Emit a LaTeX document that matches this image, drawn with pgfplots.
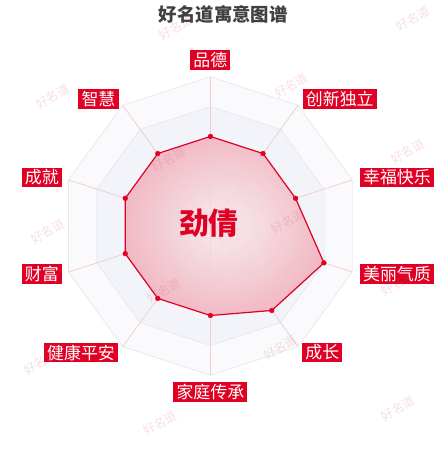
\documentclass[border=0pt]{standalone}
\usepackage{pgfplots}
\pgfplotsset{compat=1.18}
\usepackage{fontspec}
\setmainfont{Noto Sans CJK SC}

\definecolor{hmred}{RGB}{224,0,36}
\definecolor{bandout}{RGB}{250,250,252}
\definecolor{bandblue}{RGB}{242,244,250}
\definecolor{ringgray}{RGB}{232,233,240}
\definecolor{spokepink}{RGB}{242,205,213}
\definecolor{petalin}{RGB}{247,224,229}
\definecolor{petalout}{RGB}{233,126,148}
\definecolor{wmark}{RGB}{215,90,115}

\pgfdeclareradialshading{petal}{\pgfpoint{0bp}{0bp}}{%
  color(0bp)=(petalin); color(6bp)=(petalin); color(52bp)=(petalout); color(75bp)=(petalout)}

\tikzset{
  lab/.style={fill=hmred, text=white, inner xsep=3.2pt, inner ysep=0pt,
    minimum height=20pt, font=\fontsize{17}{17}\selectfont},
  wm/.style={text=wmark, opacity=0.2, rotate=30, font=\fontsize{12}{12}\selectfont}
}

\begin{document}
\begin{tikzpicture}
\begin{axis}[
  x=1.5pt, y=1.5pt,
  xmin=-141, xmax=159, ymin=-150.13, ymax=149.87,
  hide axis, clip=false,
]
% background bands of the grid
\addplot[draw=none, fill=bandout, data cs=polar] coordinates {(90,100) (54,100) (18,100) (-18,100) (-54,100) (-90,100) (-126,100) (-162,100) (162,100) (126,100) (90,100)};
\addplot[draw=none, fill=bandblue, data cs=polar] coordinates {(90,80) (54,80) (18,80) (-18,80) (-54,80) (-90,80) (-126,80) (-162,80) (162,80) (126,80) (90,80)};
\addplot[draw=none, fill=white, data cs=polar] coordinates {(90,60) (54,60) (18,60) (-18,60) (-54,60) (-90,60) (-126,60) (-162,60) (162,60) (126,60) (90,60)};
\addplot[draw=none, fill=bandblue, data cs=polar] coordinates {(90,40) (54,40) (18,40) (-18,40) (-54,40) (-90,40) (-126,40) (-162,40) (162,40) (126,40) (90,40)};
\addplot[draw=none, fill=white, data cs=polar] coordinates {(90,20) (54,20) (18,20) (-18,20) (-54,20) (-90,20) (-126,20) (-162,20) (162,20) (126,20) (90,20)};
% ring lines
\pgfplotsinvokeforeach{100,80,60,40,20}{
  \addplot[ringgray, line width=0.8pt, data cs=polar] coordinates {(90,#1) (54,#1) (18,#1) (-18,#1) (-54,#1) (-90,#1) (-126,#1) (-162,#1) (162,#1) (126,#1) (90,#1)};
}
% spokes
\pgfplotsinvokeforeach{90,54,18,-18,-54,-90,-126,-162,162,126}{
  \addplot[spokepink, line width=0.8pt, data cs=polar] coordinates {(#1,0) (#1,100)};
}
% data
\addplot[draw=hmred, line width=1.2pt, shading=petal, fill opacity=0.96, data cs=polar] coordinates {
  (90,60) (54,60) (18,60) (-18,80) (-54,70) (-90,60) (-126,60) (-162,60) (162,60) (126,60) (90,60)};
\pgfplotsinvokeforeach{90,54,18,-54,-90,-126,-162,162,126}{
  \addplot[spokepink, opacity=0.35, line width=0.6pt, data cs=polar] coordinates {(#1,0) (#1,60)};
}
\addplot[only marks, mark=*, mark size=2.4pt, hmred, data cs=polar] coordinates {
  (90,60) (54,60) (18,60) (-18,80) (-54,70) (-90,60) (-126,60) (-162,60) (162,60) (126,60)};

% axis names
\node[lab] at (axis cs:0,111.5) {品德};
\node[lab] at (axis cs:86.7,85.2) {创新独立};
\node[lab] at (axis cs:125,32.5) {幸福快乐};
\node[lab] at (axis cs:125,-32.1) {美丽气质};
\node[lab] at (axis cs:75,-84.8) {成长};
\node[lab] at (axis cs:0,-111.5) {家庭传承};
\node[lab] at (axis cs:-86.7,-84.8) {健康平安};
\node[lab] at (axis cs:-113,-32.1) {财富};
\node[lab] at (axis cs:-113,32.5) {成就};
\node[lab] at (axis cs:-75,85.2) {智慧};

% title and name
\node[text=black!75, font=\fontsize{18.5}{18.5}\selectfont\bfseries] at (axis cs:8.7,141.6) {好名道寓意图谱};
\node[text=hmred, font=\fontsize{30}{30}\selectfont\bfseries] at (axis cs:-1,1.5) {劲倩};

% watermarks
\node[wm] at (axis cs:-23,133.2) {好名道};
\node[wm] at (axis cs:135.7,139.2) {好名道};
\node[wm] at (axis cs:-105.7,86.5) {好名道};
\node[wm] at (axis cs:54.3,93.9) {好名道};
\node[wm] at (axis cs:-27.7,44.5) {好名道};
\node[wm] at (axis cs:132.3,49.9) {好名道};
\node[wm] at (axis cs:-109,-3.5) {好名道};
\node[wm] at (axis cs:52,3.2) {好名道};
\node[wm] at (axis cs:-31,-43.5) {好名道};
\node[wm] at (axis cs:125.7,-38.8) {好名道};
\node[wm] at (axis cs:-114,-91.5) {好名道};
\node[wm] at (axis cs:47,-81.5) {好名道};
\node[wm] at (axis cs:-33.7,-132.1) {好名道};
\node[wm] at (axis cs:125.7,-122.1) {好名道};

\path (rel axis cs:0,0) rectangle (rel axis cs:1,1);
\end{axis}
\end{tikzpicture}
\end{document}
